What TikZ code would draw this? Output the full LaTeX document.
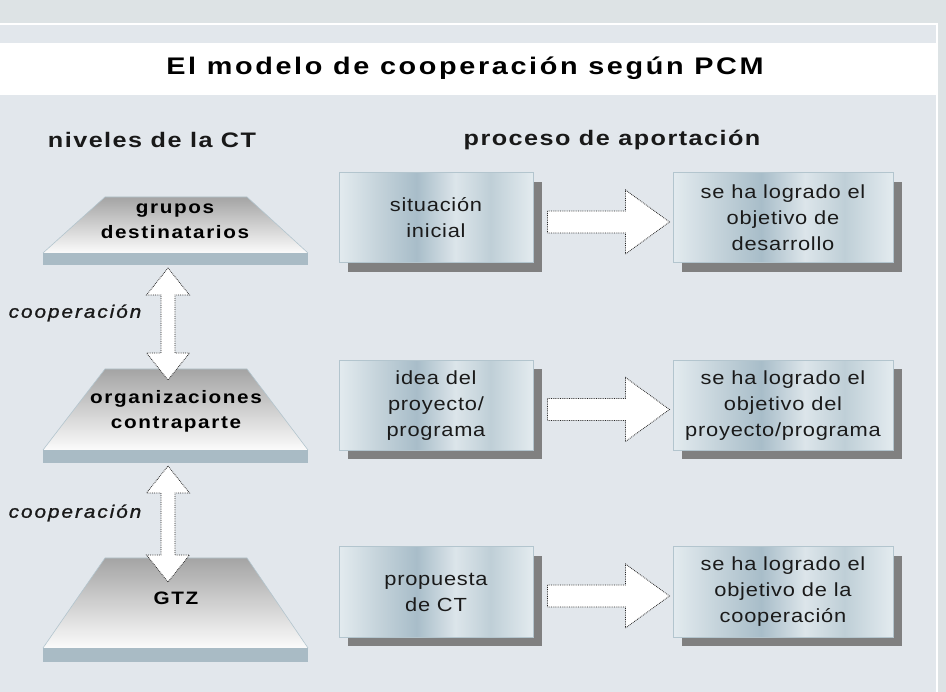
\documentclass[tikz,border=0pt]{standalone}
\usepackage{fontspec}
\setmainfont{Liberation Sans}
\newfontfamily\hdfont[LetterSpace=7,FakeStretch=1.2]{Liberation Sans}
\newfontfamily\titfont[LetterSpace=11,FakeStretch=1.2]{Liberation Sans}
\newfontfamily\trfont[LetterSpace=9,FakeStretch=1.15]{Liberation Sans}
\newfontfamily\bxfont[LetterSpace=4,FakeStretch=1.15]{Liberation Sans}
\newfontfamily\coopfont[LetterSpace=11,FakeStretch=1.15,FakeBold=1.2]{Liberation Sans}
\usetikzlibrary{calc,shadows}
\definecolor{outerbg}{HTML}{DDE3E5}
\definecolor{panelbg}{HTML}{E2E7EC}
\definecolor{slabc}{HTML}{A9BBC5}
\definecolor{shadowc}{HTML}{808080}
\definecolor{boxline}{HTML}{B3C5CE}
\definecolor{trtop}{HTML}{A4A4A4}
\definecolor{trbot}{HTML}{FBFBFB}
\definecolor{mA}{HTML}{E3EBEF}
\definecolor{mB}{HTML}{C2D1D9}
\definecolor{mC}{HTML}{A8BDC9}
\definecolor{mD}{HTML}{DCE5EA}
\definecolor{mE}{HTML}{BFCFD7}
\definecolor{txt}{HTML}{1A1A1A}
\pgfdeclarehorizontalshading{metal}{100bp}{color(0bp)=(mA); color(25bp)=(mA); color(36bp)=(mB); color(45bp)=(mC); color(55bp)=(mD); color(64bp)=(mE); color(75bp)=(mA); color(100bp)=(mA)}
\tikzset{
  titletext/.style={font=\titfont\bfseries\fontsize{24}{28}\selectfont, text=black},
  headtext/.style={font=\hdfont\bfseries\fontsize{21}{26}\selectfont, text=black!90},
  trtext/.style={font=\trfont\bfseries\fontsize{18}{25}\selectfont, align=center, text=black},
  cooptext/.style={font=\coopfont\itshape\fontsize{18}{20}\selectfont, text=black!90},
  mbox/.style={shade, shading=metal, draw=boxline, line width=1pt, align=center,
    font=\bxfont\fontsize{19}{26}\selectfont, text=txt, inner sep=0pt,
    drop shadow={shadow xshift=9pt, shadow yshift=-9pt, fill=shadowc, opacity=1}},
  lbox/.style={mbox, minimum width=194pt, minimum height=90pt},
  rbox/.style={mbox, minimum width=220pt, minimum height=90pt},
  blockarrow/.style={fill=white, draw=black!85, densely dotted, line width=0.8pt},
}
\newcommand\trapez[3]{%
  \shade[top color=trtop, bottom color=trbot] (105,#1) -- (247,#1) -- (308,#2) -- (43,#2) -- cycle;
  \draw[boxline, line width=0.6pt] (43,#2) -- (105,#1) -- (247,#1) -- (308,#2);
  \fill[slabc] (43,#2) rectangle (308,#3);}
\newcommand\vdarrow[2]{%
  \draw[blockarrow] let \p1=(#1), \p2=(#2) in
    (\x1,\y1) -- (\x1+21.5pt,\y1-27pt) -- (\x1+7pt,\y1-27pt) -- (\x1+7pt,\y2+27pt)
    -- (\x1+21.5pt,\y2+27pt) -- (\x1,\y2) -- (\x1-21.5pt,\y2+27pt) -- (\x1-7pt,\y2+27pt)
    -- (\x1-7pt,\y1-27pt) -- (\x1-21.5pt,\y1-27pt) -- cycle;}
\newcommand\rarrow[2]{%
  \draw[blockarrow] let \p1=($(#1.east)+(14,4)$), \p2=($(#2.west)+(-3,4)$) in
    (\x1,\y1+11pt) -- (\x2-44pt,\y1+11pt) -- (\x2-44pt,\y1+32pt) -- (\x2,\y1)
    -- (\x2-44pt,\y1-32pt) -- (\x2-44pt,\y1-11pt) -- (\x1,\y1-11pt) -- cycle;}
\begin{document}
\begin{tikzpicture}[x=1pt,y=-1pt]
\useasboundingbox (0,0) rectangle (946,692);
\fill[outerbg] (0,0) rectangle (946,692);
\fill[panelbg] (-2,24) rectangle (937,694);
\draw[white, line width=1.3pt] (-2,24) -- (937,24) -- (937,694);
\fill[white] (-2,43) rectangle (936.3,95);
\node[titletext] (title) at (465,68) {El modelo de cooperación según PCM};
\node[headtext] (h1) at (152,140) {niveles de la CT};
\node[headtext] (h2) at (612,140) {proceso de aportación};
% levels
\trapez{197}{253}{265}
\trapez{369}{450}{463}
\trapez{558}{648}{662}
\node[trtext] (t1) at (175,221) {grupos\\destinatarios};
\node[trtext] (t2) at (176,411) {organizaciones\\contraparte};
\node[trtext] (t3) at (176,598) {GTZ};
\node[cooptext] (c1) at (75,313) {cooperación};
\node[cooptext] (c2) at (75,513) {cooperación};
\coordinate (a1s) at (168,268);
\coordinate (a1e) at (168,380);
\coordinate (a2s) at (168,466);
\coordinate (a2e) at (168,582);
\vdarrow{a1s}{a1e}
\vdarrow{a2s}{a2e}
% process boxes
\node[lbox] (l1) at (436,218) {situación\\inicial};
\node[rbox] (r1) at (783,218) {se ha logrado el\\objetivo de\\desarrollo};
\node[lbox] (l2) at (436,405.5) {idea del\\proyecto/\\programa};
\node[rbox] (r2) at (783,405.5) {se ha logrado el\\objetivo del\\proyecto/programa};
\node[lbox] (l3) at (436,592) {propuesta\\de CT};
\node[rbox] (r3) at (783,592) {se ha logrado el\\objetivo de la\\cooperación};
\rarrow{l1}{r1}
\rarrow{l2}{r2}
\rarrow{l3}{r3}
\end{tikzpicture}
\end{document}
